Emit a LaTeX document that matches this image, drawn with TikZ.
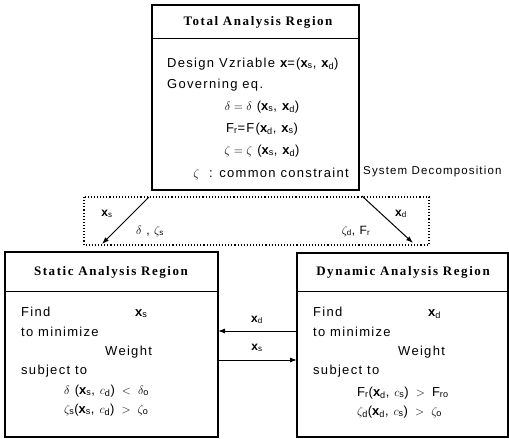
\documentclass[tikz,border=0pt]{standalone}
\usepackage{fontspec}
\setmainfont[LetterSpace=10]{Liberation Sans}
\newfontfamily\titlefont[LetterSpace=12]{Liberation Serif}
\usetikzlibrary{arrows.meta}
\newcommand{\bx}[1]{\mathbf{x}_{\mathrm{#1}}}
\begin{document}
\begin{tikzpicture}[x=1pt,y=-1pt,
  region/.style={draw,line width=1.1pt},
  ttl/.style={font=\titlefont\bfseries\fontsize{13}{15}\selectfont,inner sep=0},
  txt/.style={font=\fontsize{13}{15}\selectfont,inner sep=0,anchor=base west},
  ctxt/.style={font=\fontsize{13}{15}\selectfont,inner sep=0,anchor=base},
  lbl/.style={font=\fontsize{12}{14}\selectfont,inner sep=0,anchor=base},
  arr/.style={-{Latex[length=7pt,width=5pt]},line width=1pt}]
\useasboundingbox (0,0) rectangle (509,439);
% Total analysis region
\draw[region] (152,5) rectangle (359,190);
\draw[line width=0.8pt] (152,38) -- (359,38);
\node[ttl] (ttotal) at (258,22) {Total Analysis Region};
\node[txt] (dv) at (167,67) {Design Vzriable $\mathbf{x}$=($\bx{s}$, $\bx{d}$)};
\node[txt] (ge) at (167,88) {Governing eq.};
\node[ctxt] (e1) at (262,110) {$\delta=\delta$ ($\bx{s}$, $\bx{d}$)};
\node[ctxt] (e2) at (262,132) {F$_\mathrm{r}$=F($\bx{d}$, $\bx{s}$)};
\node[ctxt] (e3) at (262,154) {$\zeta=\zeta$ ($\bx{s}$, $\bx{d}$)};
\node[ctxt] (e4) at (271,177) {$\zeta$ \ : common constraint};
\node[txt,font=\fontsize{11.5}{14}\selectfont] (sysd) at (363,174) {System Decomposition};
% decomposition
\draw[dotted,line width=1.1pt] (84,197) rectangle (429,245);
\coordinate (ls) at (149,197);
\coordinate (le) at (102,244);
\coordinate (rs) at (362,196);
\coordinate (re) at (413,243);
\draw[arr] (ls) -- (le);
\draw[arr] (rs) -- (re);
\node[lbl] (lxs) at (107,216) {$\bx{s}$};
\node[lbl] (lds) at (150,234) {$\delta$ , $\zeta_\mathrm{s}$};
\node[lbl] (rxd) at (401,216) {$\bx{d}$};
\node[lbl] (rzd) at (356,234) {$\zeta_\mathrm{d}$, F$_\mathrm{r}$};
% Static region
\draw[region] (5,252) rectangle (218,437);
\draw[line width=0.8pt] (5,291) -- (218,291);
\node[ttl] (tstat) at (111,272) {Static Analysis Region};
\node[txt] (sf) at (21,316) {Find};
\node[txt] (sfx) at (135,316) {$\bx{s}$};
\node[txt] (sm) at (21,336) {to minimize};
\node[txt] (sw) at (105,355) {Weight};
\node[txt] (sst) at (21,374) {subject to};
\node[txt] (sc1) at (64,394) {$\delta$ ($\bx{s}$, $c_\mathrm{d}$) \,$<$\, $\delta_\mathrm{o}$};
\node[txt] (sc2) at (64,413) {$\zeta_\mathrm{s}$($\bx{s}$, $c_\mathrm{d}$) \,$>$\, $\zeta_\mathrm{o}$};
% Dynamic region
\draw[region] (297,253) rectangle (508,437);
\draw[line width=0.8pt] (297,291) -- (508,291);
\node[ttl] (tdyn) at (403,272) {Dynamic Analysis Region};
\node[txt] (df) at (313,316) {Find};
\node[txt] (dfx) at (428,316) {$\bx{d}$};
\node[txt] (dm) at (313,336) {to minimize};
\node[txt] (dw) at (398,355) {Weight};
\node[txt] (dst) at (313,374) {subject to};
\node[txt] (dc1) at (357,396) {F$_\mathrm{r}$($\bx{d}$, $c_\mathrm{s}$) \,$>$\, F$_\mathrm{ro}$};
\node[txt] (dc2) at (357,415) {$\zeta_\mathrm{d}$($\bx{d}$, $c_\mathrm{s}$) \,$>$\, $\zeta_\mathrm{o}$};
% exchange arrows
\coordinate (dl1) at (297,331);
\coordinate (sr1) at (218,331);
\coordinate (sr2) at (218,360);
\coordinate (dl2) at (297,360);
\draw[arr] (dl1) -- (sr1);
\draw[arr] (sr2) -- (dl2);
\node[lbl] (mxd) at (257,322) {$\bx{d}$};
\node[lbl] (mxs) at (257,350) {$\bx{s}$};
\end{tikzpicture}
\end{document}
